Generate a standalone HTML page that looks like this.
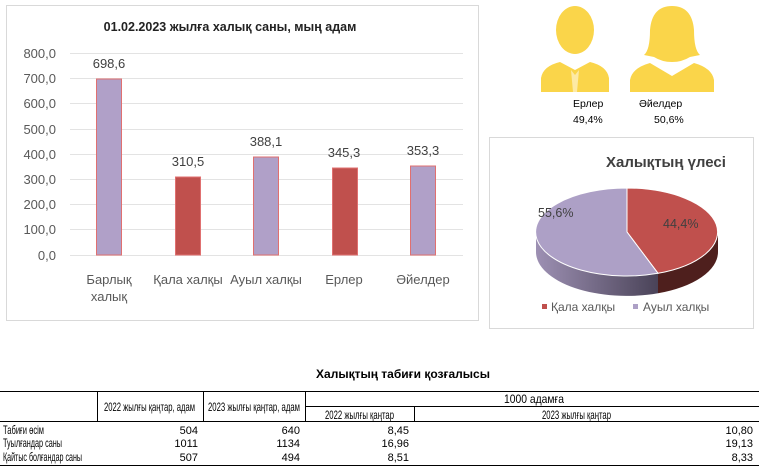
<!DOCTYPE html>
<html><head><meta charset="utf-8"><style>
body{margin:0;width:759px;height:475px;background:#fff;font-family:"Liberation Sans","DejaVu Sans",sans-serif;overflow:hidden;position:relative}
svg{position:absolute;left:0;top:0}
</style></head><body>
<svg width="759" height="475" viewBox="0 0 759 475" font-family="Liberation Sans, DejaVu Sans, sans-serif">
<rect x="6.5" y="5.5" width="472" height="315" fill="#fff" stroke="#d9d9d9"/>
<text x="230" y="31" font-size="12.5" font-weight="bold" text-anchor="middle" fill="#222">01.02.2023 жылға халық саны, мың адам</text>
<g stroke="#e3e3e3" stroke-width="1">
<line x1="70" x2="463" y1="53.5" y2="53.5"/><line x1="70" x2="463" y1="78.5" y2="78.5"/>
<line x1="70" x2="463" y1="103.5" y2="103.5"/><line x1="70" x2="463" y1="129.5" y2="129.5"/>
<line x1="70" x2="463" y1="154.5" y2="154.5"/><line x1="70" x2="463" y1="179.5" y2="179.5"/>
<line x1="70" x2="463" y1="204.5" y2="204.5"/><line x1="70" x2="463" y1="229.5" y2="229.5"/>
<line x1="70" x2="463" y1="255.5" y2="255.5"/>
</g>
<g font-size="13" fill="#595959" text-anchor="end">
<text x="56" y="58">800,0</text><text x="56" y="83">700,0</text><text x="56" y="108">600,0</text>
<text x="56" y="134">500,0</text><text x="56" y="159">400,0</text><text x="56" y="184">300,0</text>
<text x="56" y="209">200,0</text><text x="56" y="234">100,0</text><text x="56" y="260">0,0</text>
</g>
<g stroke="#e07070" stroke-width="1">
<rect x="96.5" y="79" width="25" height="176" fill="#b0a0c8"/>
<rect x="175.5" y="177" width="25" height="78" fill="#c0504d"/>
<rect x="253.5" y="157" width="25" height="98" fill="#b0a0c8"/>
<rect x="332.5" y="168" width="25" height="87" fill="#c0504d"/>
<rect x="410.5" y="166" width="25" height="89" fill="#b0a0c8"/>
</g>
<g font-size="13" fill="#404040" text-anchor="middle">
<text x="109" y="68">698,6</text><text x="188" y="166">310,5</text><text x="266" y="146">388,1</text>
<text x="344" y="157">345,3</text><text x="423" y="155">353,3</text>
</g>
<g font-size="13" fill="#595959" text-anchor="middle">
<text x="109" y="284">Барлық</text><text x="109" y="301">халық</text>
<text x="188" y="284">Қала халқы</text><text x="266" y="284">Ауыл халқы</text>
<text x="344" y="284">Ерлер</text><text x="423" y="284">Әйелдер</text>
</g>
<g fill="#fad54a">
<ellipse cx="575" cy="30" rx="19" ry="24"/>
<path d="M541 92 L541 78 Q543 66 560 62 L575 70 L590 62 Q607 66 609 78 L609 92 Z"/>
<path d="M672 6 Q692 6 694 30 Q694 50 700 55 L690 57 Q682 62 672 62 Q662 62 654 57 L644 55 Q650 50 650 30 Q652 6 672 6 Z"/>
<path d="M630 92 L630 80 Q632 68 650 63 L672 76 L694 63 Q712 68 714 80 L714 92 Z"/>
</g>
<g fill="#fff"><path d="M571 70 L575 75 L579 70 L577 92 L573 92 Z" opacity=".5"/></g>
<g font-size="10.5" fill="#000">
<text x="573" y="107">Ерлер</text><text x="573" y="123">49,4%</text>
<text x="639" y="107">Әйелдер</text><text x="654" y="123">50,6%</text>
</g>
<rect x="489.5" y="137.5" width="264" height="191" fill="#fff" stroke="#d9d9d9"/>
<text x="606" y="167" font-size="15" font-weight="bold" fill="#404040">Халықтың үлесі</text>
<defs>
<linearGradient id="gp" x1="0" x2="1"><stop offset="0" stop-color="#9d90b3"/><stop offset="1" stop-color="#4a4358"/></linearGradient>
</defs>
<path d="M718 232 A91 44 0 0 1 658 273.3 L658 293.3 A91 44 0 0 0 718 252 Z" fill="#4e1f1d"/>
<path d="M658 273.3 A91 44 0 0 1 536 232 L536 252 A91 44 0 0 0 658 293.3 Z" fill="url(#gp)"/>
<path d="M627 232 L627 188 A91 44 0 0 1 658 273.3 Z" fill="#c0504d" stroke="#fff" stroke-width="1"/>
<path d="M627 232 L658 273.3 A91 44 0 1 1 627 188 Z" fill="#ada0c6" stroke="#fff" stroke-width="1"/>
<text x="538" y="217" font-size="12.5" fill="#404040">55,6%</text>
<text x="663" y="228" font-size="12.5" fill="#404040">44,4%</text>
<rect x="542" y="304" width="5" height="5" fill="#c0504d"/>
<text x="551" y="311" font-size="12" fill="#595959">Қала халқы</text>
<rect x="633" y="304" width="5" height="5" fill="#ada0c6"/>
<text x="643" y="311" font-size="12" fill="#595959">Ауыл халқы</text>
<text x="403" y="378" font-size="12" font-weight="bold" text-anchor="middle">Халықтың табиғи қозғалысы</text>
<g stroke="#000" stroke-width="1">
<line x1="0" x2="759" y1="391.5" y2="391.5"/>
<line x1="0" x2="759" y1="421.5" y2="421.5"/>
<line x1="305" x2="759" y1="406.5" y2="406.5"/>
<line x1="0" x2="759" y1="465.5" y2="465.5"/>
<line x1="97.5" x2="97.5" y1="391" y2="421"/>
<line x1="203.5" x2="203.5" y1="391" y2="421"/>
<line x1="305.5" x2="305.5" y1="391" y2="421"/>
<line x1="414.5" x2="414.5" y1="406" y2="421"/>
</g>
<g font-size="12" fill="#000">
<text x="104" y="411" textLength="91" lengthAdjust="spacingAndGlyphs">2022 жылғы қаңтар, адам</text>
<text x="208" y="411" textLength="92" lengthAdjust="spacingAndGlyphs">2023 жылғы қаңтар, адам</text>
<text x="504" y="403" textLength="60" lengthAdjust="spacingAndGlyphs">1000 адамға</text>
<text x="325" y="419" textLength="69" lengthAdjust="spacingAndGlyphs">2022 жылғы қаңтар</text>
<text x="542" y="419" textLength="69" lengthAdjust="spacingAndGlyphs">2023 жылғы қаңтар</text>
<text x="3" y="434" textLength="41" lengthAdjust="spacingAndGlyphs">Табиғи өсім</text>
<text x="3" y="447" textLength="59" lengthAdjust="spacingAndGlyphs">Туылғандар саны</text>
<text x="3" y="461" textLength="79" lengthAdjust="spacingAndGlyphs">Қайтыс болғандар саны</text>
</g>
<g font-size="11" fill="#000" text-anchor="end">
<text x="198" y="434">504</text><text x="300" y="434">640</text><text x="409" y="434">8,45</text><text x="753" y="434">10,80</text>
<text x="198" y="447">1011</text><text x="300" y="447">1134</text><text x="409" y="447">16,96</text><text x="753" y="447">19,13</text>
<text x="198" y="461">507</text><text x="300" y="461">494</text><text x="409" y="461">8,51</text><text x="753" y="461">8,33</text>
</g>
</svg>
</body></html>
